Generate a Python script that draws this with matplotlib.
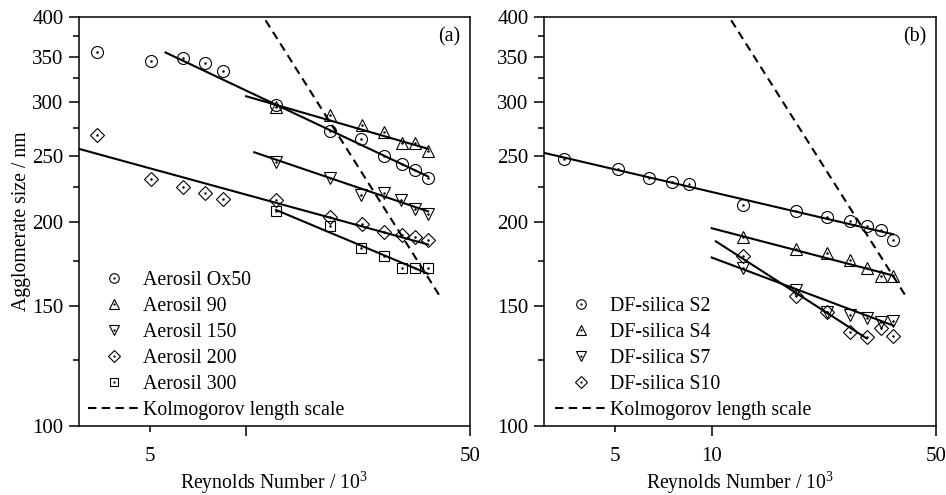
import matplotlib
matplotlib.use('Agg')
from matplotlib import pyplot as plt
from matplotlib.ticker import FixedLocator, NullFormatter, FixedFormatter
from matplotlib.legend_handler import HandlerTuple

plt.rcParams['font.family'] = ['Liberation Serif', 'DejaVu Serif']
plt.rcParams['mathtext.fontset'] = 'custom'
plt.rcParams['mathtext.rm'] = 'Liberation Serif'

# ---- panel (a): Aerosil ----
re_ox50 = [3.42, 5.06, 6.33, 7.46, 8.45, 12.4, 18.3, 22.9, 27.0, 30.7, 33.7, 37.0]
d_ox50 = [355, 345, 349, 342, 333, 297, 272, 265, 250, 243, 238, 232]
re_a90 = [12.4, 18.3, 23.0, 27.0, 30.7, 33.7, 37.0]
d_a90 = [295, 287, 278, 271, 261, 261, 254]
re_a150 = [12.4, 18.3, 22.9, 27.0, 30.5, 33.7, 37.0]
d_a150 = [245, 232, 219, 220, 215, 209, 205]
re_a200 = [3.42, 5.06, 6.33, 7.46, 8.45, 12.4, 18.3, 23.0, 27.0, 30.7, 33.7, 37.0]
d_a200 = [268, 231, 225, 220, 216, 215, 203, 198, 193, 191, 190, 188]
re_a300 = [12.4, 18.3, 22.9, 27.0, 30.7, 33.7, 37.0]
d_a300 = [207, 197, 183, 178, 171, 171, 171]

# fitted lines (end points)
fit_ox50 = ([5.6, 37.0], [355, 233])
fit_a90 = ([10.0, 37.0], [306, 256])
fit_a150 = ([10.6, 37.0], [253, 207])
fit_a200 = ([3.0, 37.0], [256, 185])
fit_a300 = ([12.4, 37.0], [208, 167.5])

# ---- panel (b): DF-silica ----
re_s2 = [3.47, 5.10, 6.39, 7.50, 8.47, 12.5, 18.3, 22.9, 27.0, 30.5, 33.8, 36.8]
d_s2 = [247, 239, 232, 228.5, 227, 211.5, 207, 203, 200.5, 197, 194, 188]
re_s4 = [12.5, 18.3, 22.9, 27.0, 30.5, 33.8, 36.8]
d_s4 = [190, 182, 179.5, 175.5, 171, 166, 166]
re_s7 = [12.5, 18.3, 22.9, 27.0, 30.5, 33.8, 36.8]
d_s7 = [171, 158.5, 147, 145.5, 144, 142, 142.5]
re_s10 = [12.5, 18.3, 22.9, 27.0, 30.5, 33.8, 36.8]
d_s10 = [178, 155.5, 147, 137.5, 135, 139.5, 135.5]

fit_s2 = ([3.0, 36.8], [252.5, 191.5])
fit_s4 = ([10.0, 36.8], [195.5, 166.5])
fit_s7 = ([10.0, 36.8], [177, 140.5])
fit_s10 = ([10.3, 30.4], [187, 134.5])

# Kolmogorov length scale (same in both panels)
kolmo = ([11.5, 40.0], [396, 156])

markers_a = ['o', '^', 'v', 'D', 's']
labels_a = ['Aerosil Ox50', 'Aerosil 90', 'Aerosil 150', 'Aerosil 200', 'Aerosil 300']
markers_b = ['o', '^', 'v', 'D']
labels_b = ['DF-silica S2', 'DF-silica S4', 'DF-silica S7', 'DF-silica S10']

fig = plt.figure(figsize=(9.46, 4.95), dpi=100)
ax1 = fig.add_axes([0.0832, 0.14, 0.4136, 0.825])
ax2 = fig.add_axes([0.575, 0.14, 0.4144, 0.825])


def draw_panel(ax, xs, ys, fits, markers, labels):
    handles = []
    for x, y, m in zip(xs, ys, markers):
        ms = {'o': 8.6, '^': 8.6, 'v': 8.6, 'D': 7.5, 's': 7.0}[m]
        h1, = ax.plot(x, y, ls='none', marker=m, ms=ms, mfc='none', mec='black', mew=0.8)
        h2, = ax.plot(x, y, ls='none', marker='.', ms=1.6, color='black')
        handles.append((h1, h2))
    for fx, fy in fits:
        ax.plot(fx, fy, color='black', lw=1.5)
    hk, = ax.plot(kolmo[0], kolmo[1], color='black', lw=1.5, ls=(0, (4, 2.6)))
    handles.append(hk)

    ax.set_xscale('log')
    ax.set_yscale('log')
    ax.set_xlim(3, 50)
    ax.set_ylim(100, 400)
    ax.yaxis.set_major_locator(FixedLocator([100, 150, 200, 250, 300, 350, 400]))
    ax.yaxis.set_major_formatter(FixedFormatter(['100', '150', '200', '250', '300', '350', '400']))
    ax.yaxis.set_minor_locator(FixedLocator([125, 175, 225, 275, 325, 375]))
    ax.yaxis.set_minor_formatter(NullFormatter())
    ax.xaxis.set_minor_locator(FixedLocator([5]))
    ax.xaxis.set_minor_formatter(FixedFormatter(['5']))
    ax.tick_params(which='both', direction='out', labelsize=15, width=1.1)
    ax.tick_params(which='major', length=7.5)
    ax.tick_params(which='minor', length=4.2)
    ax.tick_params(axis='x', which='major', pad=8)
    ax.tick_params(axis='x', which='minor', pad=11.3)
    ax.tick_params(axis='y', which='both', pad=3.5)
    for s in ax.spines.values():
        s.set_linewidth(1.1)
    ax.set_xlabel('Reynolds Number / 10$^3$', fontsize=14.2, labelpad=2)
    return handles, labels + ['Kolmogorov length scale']


leg_kw = dict(handler_map={tuple: HandlerTuple(ndivide=1)}, loc='lower left', frameon=False,
              fontsize=14.3, markerscale=0.8, handlelength=2.6, handletextpad=0.15,
              labelspacing=0.35, borderpad=0, borderaxespad=0)

h1, l1 = draw_panel(ax1, [re_ox50, re_a90, re_a150, re_a200, re_a300],
                    [d_ox50, d_a90, d_a150, d_a200, d_a300],
                    [fit_ox50, fit_a90, fit_a150, fit_a200, fit_a300], markers_a, labels_a)
ax1.xaxis.set_major_locator(FixedLocator([10, 50]))
ax1.xaxis.set_major_formatter(FixedFormatter(['', '50']))
ax1.set_ylabel('Agglomerate size / nm', fontsize=14.2, labelpad=1)
ax1.text(0.975, 0.975, '(a)', transform=ax1.transAxes, ha='right', va='top', fontsize=14.3)
ax1.legend(h1, l1, bbox_to_anchor=(0.024, 0.015), **leg_kw)

h2, l2 = draw_panel(ax2, [re_s2, re_s4, re_s7, re_s10], [d_s2, d_s4, d_s7, d_s10],
                    [fit_s2, fit_s4, fit_s7, fit_s10], markers_b, labels_b)
ax2.xaxis.set_major_locator(FixedLocator([10, 50]))
ax2.xaxis.set_major_formatter(FixedFormatter(['10', '50']))
ax2.text(0.975, 0.975, '(b)', transform=ax2.transAxes, ha='right', va='top', fontsize=14.3)
ax2.legend(h2, l2, bbox_to_anchor=(0.028, 0.015), **leg_kw)

fig.savefig('out.png', dpi=100)
